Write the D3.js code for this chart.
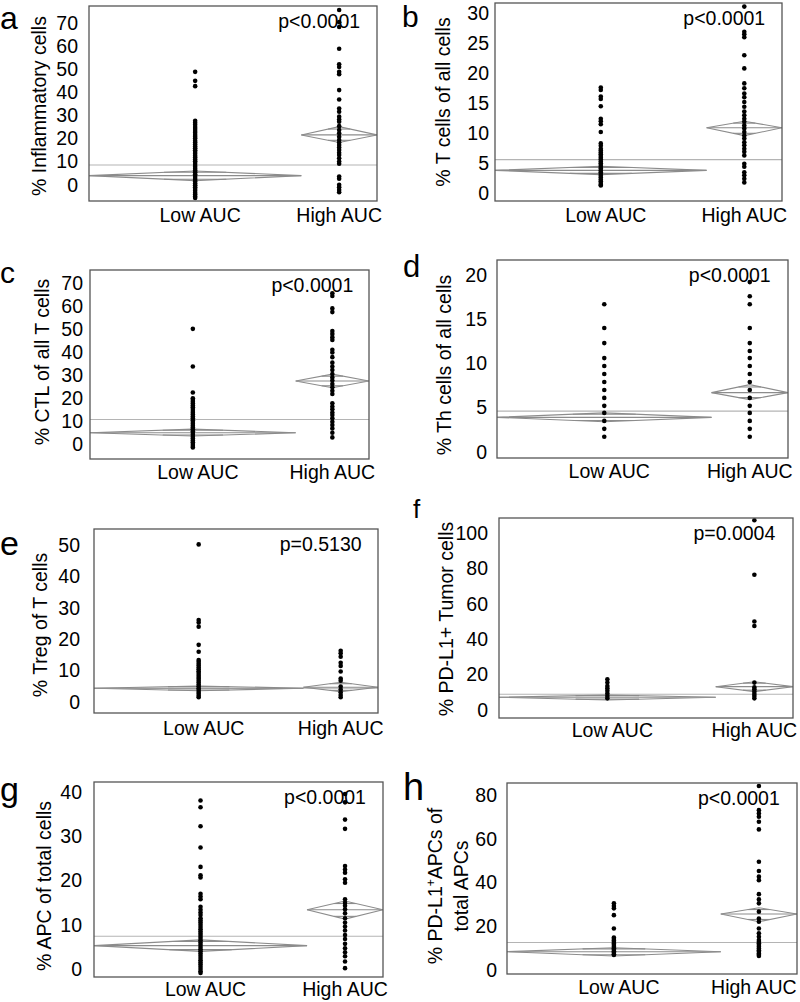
<!DOCTYPE html>
<html><head><meta charset="utf-8">
<script src="https://cdn.jsdelivr.net/npm/d3@7"></script>
<style>
body{margin:0;background:#fff}
svg{display:block}
text{font-family:Arial,"Liberation Sans",sans-serif;fill:#000}
</style>
</head><body>
<svg id="chart" width="800" height="1002"></svg>
<script>
// ---------------- DATA ----------------
const categories = ["Low AUC", "High AUC"];
const groupCounts = [101, 36];
const panelLetters = ["a","b","c","d","e","f","g","h"];
const yLabels = [
  ["% Inflammatory cells"],
  ["% T cells of all cells"],
  ["% CTL of all T cells"],
  ["% Th cells of all cells"],
  ["% Treg of T cells"],
  ["% PD-L1+ Tumor cells"],
  ["% APC of total cells"],
  ["% PD-L1^+APCs of", "total APCs"]
];
const pTexts = ["p<0.0001","p<0.0001","p<0.0001","p<0.0001","p=0.5130","p=0.0004","p<0.0001","p<0.0001"];
const yDomains = [[-7,77.4],[-1.3,31.7],[-6.5,75.7],[-0.7,21.7],[-3.5,55.1],[-4.5,108.5],[-1.8,42.3],[-1.8,85.5]];
const yTicks = [
  [0,10,20,30,40,50,60,70],
  [0,5,10,15,20,25,30],
  [0,10,20,30,40,50,60,70],
  [0,5,10,15,20],
  [0,10,20,30,40,50],
  [0,20,40,60,80,100],
  [0,10,20,30,40],
  [0,20,40,60,80]
];
// group means, lower / upper 95% CI (Low, High) and grand mean
const groupMeans = [[4.0,21.6],[3.8,10.9],[4.9,27.4],[3.9,6.7],[4.4,4.7],[7.2,13.2],[5.3,13.4],[8.4,25.6]];
const ciLower   = [[1.8,18.3],[3.1,9.6],[3.5,24.5],[3.4,5.9],[3.6,3.3],[5.7,10.4],[4.0,11.3],[6.4,22.1]];
const ciUpper   = [[6.0,25.2],[4.5,12.0],[6.5,30.4],[4.4,7.6],[5.1,6.3],[8.5,16.0],[6.6,15.4],[10.2,28.5]];
const grandMeans = [8.6,5.6,10.7,4.6,4.4,8.9,7.4,12.6];

// individual observations
const aLow  = [48.9,45.0,42.7,27.7,26.9,26.0,25.0,24.2,23.3,22.5,21.6,20.8,20.0,19.1,18.3,17.5,16.6,15.8,15.0,14.2,13.4,12.6,11.8,11.0,10.2,9.4,8.6,7.8,7.0,6.2,5.4,4.6,3.8,3.0,2.2,1.4,0.6,-0.2,-1.0,-1.8,-2.6,-3.4,-4.2,-5.0,-5.7];
const aHigh = [75.7,70.4,68.3,58.9,52.2,51.0,48.9,47.9,41.0,36.9,33.0,31.6,29.5,28.3,27.3,25.4,23.7,22.3,20.8,19.4,18.3,17.2,16.2,15.1,13.9,12.9,11.5,10.1,9.1,3.6,2.6,0.0,-1.0,-2.2,-3.2];
const bLow  = [17.6,17.2,16.1,15.7,14.5,12.4,12.0,11.5,10.2,8.3,7.9,7.4,7.1,6.8,6.5,6.2,5.9,5.6,5.3,5.0,4.7,4.4,4.1,3.8,3.5,3.2,2.9,2.6,2.3,2.0,1.7,1.4,1.3];
const bHigh = [31.1,26.9,26.5,26.0,23.0,20.8,18.3,17.5,16.6,16.0,15.2,14.4,13.6,13.0,12.4,11.9,11.3,10.8,10.2,9.6,9.1,8.5,8.0,7.4,6.9,6.3,4.9,4.4,3.5,3.0,2.4,1.8];
const cLow  = [50.1,33.7,22.4,19.9,19.2,18.4,17.6,16.8,16.0,15.2,14.4,13.6,12.8,12.0,11.2,10.4,9.6,8.8,8.0,7.2,6.4,5.6,4.8,4.0,3.2,2.4,1.6,0.8,0.0,-0.8,-1.5];
const cHigh = [65.6,64.4,59.0,57.4,49.2,47.9,46.5,45.3,41.0,39.8,37.8,35.4,33.7,32.2,30.5,29.0,27.6,26.1,24.7,23.2,21.8,17.7,16.3,15.1,13.7,12.6,11.2,9.7,8.3,6.8,4.9,2.9];
const dLow  = [16.7,14.0,12.3,10.6,9.7,8.8,7.9,7.0,6.1,5.2,4.4,3.5,2.6,1.7];
const dHigh = [19.2,17.6,16.7,14.0,12.3,11.4,10.6,9.7,8.8,7.9,7.0,6.1,5.2,4.4,3.5,2.6,1.7];
const eLow  = [50.2,26.1,25.3,24.0,18.2,16.0,13.4,12.8,12.2,11.6,11.0,10.4,9.8,9.2,8.6,8.0,7.4,6.8,6.2,5.6,5.0,4.4,3.8,3.2,2.6,2.0,1.5];
const eHigh = [16.3,15.5,14.4,12.5,11.5,9.7,7.5,6.8,4.9,4.0,3.1,2.2,1.5];
const fLow  = [17.4,15.5,13.6,12.3,10.9,9.4,7.9,6.6];
const fHigh = [107.2,76.4,50.0,47.5,15.5,12.8,11.7,10.4,9.1,7.9,6.6];
const gLow  = [38.1,36.6,32.3,27.5,23.1,21.2,20.7,17.0,16.4,15.8,14.1,13.4,12.8,12.2,11.5,11.0,10.5,10.0,9.5,9.0,8.5,8.0,7.5,7.0,6.5,6.0,5.5,5.0,4.5,4.0,3.5,3.0,2.5,2.0,1.5,1.0,0.5,0.0,-0.5,-0.9];
const gHigh = [39.6,37.7,33.8,31.7,23.3,22.5,21.8,20.3,19.5,15.8,15.0,14.3,13.5,12.6,11.5,10.5,9.6,8.7,7.7,6.8,5.7,4.7,3.8,2.9,1.7,0.2];
const hLow  = [30.5,29.3,28.2,25.1,19.0,14.9,14.2,13.5,12.8,12.1,11.4,10.7,10.0,9.3,8.6,7.9,7.2,6.9];
const hHigh = [84.1,73.1,71.6,70.1,67.8,64.3,49.5,45.3,42.7,41.1,34.7,32.3,30.5,26.7,23.6,22.1,19.0,16.8,15.2,13.7,12.9,12.2,11.4,10.7,9.9,9.1,8.4,7.6,7.0,6.4];

const observations = [[aLow,aHigh],[bLow,bHigh],[cLow,cHigh],[dLow,dHigh],[eLow,eHigh],[fLow,fHigh],[gLow,gHigh],[hLow,hHigh]];

// ---------------- LAYOUT ----------------
const layout = [
  {x0:89, x1:377, y0:6,   y1:201, lx:[46],      ly:106, tickGap:11, xl:21, hx:0,  L:{x:0,  y:29,  s:32}},
  {x0:495,x1:782, y0:3,   y1:201, lx:[450],     ly:102, tickGap:6,  xl:21, hx:0,  L:{x:402,y:27,  s:30}},
  {x0:90, x1:369, y0:270, y1:459, lx:[49],      ly:362, tickGap:7,  xl:20, hx:0,  L:{x:0,  y:283, s:30}},
  {x0:497,x1:788, y0:260, y1:458, lx:[451],     ly:365, tickGap:10, xl:20, hx:0,  L:{x:403,y:277, s:31}},
  {x0:94, x1:378, y0:529, y1:713, lx:[47],      ly:625, tickGap:14, xl:22, hx:0,  L:{x:0,  y:555, s:34}},
  {x0:499,x1:793, y0:518, y1:718, lx:[453],     ly:619, tickGap:11, xl:19, hx:0,  L:{x:413,y:518, s:26}},
  {x0:94, x1:383, y0:782, y1:977, lx:[51],      ly:886, tickGap:12, xl:19, hx:0,  L:{x:0,  y:801, s:34}},
  {x0:507,x1:797, y0:783, y1:974, lx:[442,468], ly:886, tickGap:10, xl:20, hx:-5, L:{x:403,y:800, s:38}}
];

const svg = d3.select("#chart");
const FS = 19.5;

layout.forEach((box, i) => {
  const g = svg.append("g");
  const y = d3.scaleLinear().domain(yDomains[i]).range([box.y1, box.y0]);
  const total = d3.sum(groupCounts);
  const x = d3.scaleLinear().domain([0, total]).range([box.x0, box.x1]);
  const cum = [0, groupCounts[0]];
  const bands = categories.map((c, k) => ({
    a: x(cum[k]), b: x(cum[k] + groupCounts[k]), c: x(cum[k] + groupCounts[k] / 2)
  }));

  // clip
  const clipId = "clip" + i;
  svg.append("clipPath").attr("id", clipId).append("rect")
    .attr("x", box.x0).attr("y", box.y0).attr("width", box.x1 - box.x0).attr("height", box.y1 - box.y0);
  const inner = g.append("g").attr("clip-path", `url(#${clipId})`);

  // grand mean line
  inner.append("line")
    .attr("x1", box.x0).attr("x2", box.x1)
    .attr("y1", y(grandMeans[i])).attr("y2", y(grandMeans[i]))
    .attr("stroke", "#b4b4b4").attr("stroke-width", 1.1);

  // means diamonds
  categories.forEach((c, k) => {
    const bd = bands[k];
    const m = groupMeans[i][k], lo = ciLower[i][k], hi = ciUpper[i][k];
    const pts = [[bd.a, y(m)], [bd.c, y(hi)], [bd.b, y(m)], [bd.c, y(lo)]];
    inner.append("path")
      .attr("d", d3.line()(pts) + "Z")
      .attr("fill", "none").attr("stroke", "#8c8c8c").attr("stroke-width", 1.1);
    inner.append("line")
      .attr("x1", bd.a).attr("x2", bd.b).attr("y1", y(m)).attr("y2", y(m))
      .attr("stroke", "#8c8c8c").attr("stroke-width", 1.1);
    // overlap marks
    const half = (bd.b - bd.a) / 2;
    [m + (hi - m) / Math.SQRT2, m - (m - lo) / Math.SQRT2].forEach(v => {
      const w = half * (1 - 1 / Math.SQRT2);
      inner.append("line")
        .attr("x1", bd.c - w).attr("x2", bd.c + w).attr("y1", y(v)).attr("y2", y(v))
        .attr("stroke", "#8c8c8c").attr("stroke-width", 1.1);
    });
  });

  // points
  categories.forEach((c, k) => {
    g.append("g").selectAll("circle").data(observations[i][k]).join("circle")
      .attr("cx", bands[k].c).attr("cy", d => y(d)).attr("r", 2.3).attr("fill", "#000");
  });

  // frame
  g.append("rect").attr("x", box.x0).attr("y", box.y0)
    .attr("width", box.x1 - box.x0).attr("height", box.y1 - box.y0)
    .attr("fill", "none").attr("stroke", "#555").attr("stroke-width", 1.3);

  // y axis tick labels (no tick marks)
  const axis = d3.axisLeft(y).tickValues(yTicks[i]).tickSize(0).tickPadding(box.tickGap);
  const ag = g.append("g").attr("transform", `translate(${box.x0},0)`).call(axis);
  ag.select(".domain").remove();
  ag.selectAll("text").attr("font-size", FS).attr("fill", "#000")
    .style("font-family", "Arial, 'Liberation Sans', sans-serif");

  // x category labels
  categories.forEach((c, k) => {
    g.append("text").attr("x", bands[k].c + (k === 0 ? 5 : box.hx)).attr("y", box.y1 + box.xl)
      .attr("text-anchor", "middle").attr("font-size", FS).text(c);
  });

  // p value
  g.append("text").attr("x", bands[1].c - 20).attr("y", box.y0 + 22)
    .attr("text-anchor", "middle").attr("font-size", FS).text(pTexts[i]);

  // y label
  yLabels[i].forEach((line, li) => {
    const t = g.append("text")
      .attr("transform", `translate(${box.lx[li]},${box.ly}) rotate(-90)`)
      .attr("text-anchor", "middle").attr("font-size", FS);
    const parts = line.split("^+");
    if (parts.length > 1) {
      t.append("tspan").text(parts[0]);
      t.append("tspan").attr("font-size", 12).attr("dy", -7).text("+");
      t.append("tspan").attr("dy", 7).text(parts[1]);
    } else {
      t.text(line);
    }
  });

  // panel letter
  g.append("text").attr("x", box.L.x).attr("y", box.L.y)
    .attr("font-size", box.L.s).text(panelLetters[i]);
});
</script>
</body></html>
